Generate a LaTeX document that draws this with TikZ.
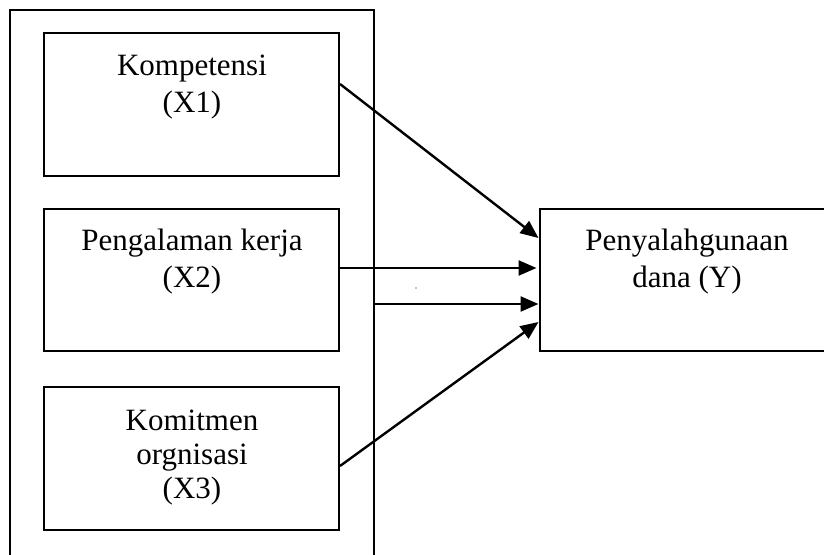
\documentclass[tikz,border=0pt]{standalone}
\usepackage{fontspec}
\setmainfont{Liberation Serif}
\usetikzlibrary{arrows.meta,positioning}
\tikzset{
	varbox/.style={draw, line width=2pt, minimum width=295pt, minimum height=143pt, inner sep=0pt},
	vartext/.style={align=center, anchor=north, inner sep=0pt, font=\fontsize{31}{37}\selectfont},
	link/.style={line width=2.4pt, -{Triangle[length=18pt,width=15pt]}}
}

\begin{document}
\begin{tikzpicture}[x=1pt, y=-1pt]
			\useasboundingbox (0,0) rectangle (824,554);
			\node[draw, line width=2pt, minimum width=364pt, minimum height=560pt, inner sep=0pt] (outer) at (192,290) {};
			\node[varbox] (x1) at (191.5,104.5) {};
			\node[varbox, minimum height=142pt] (x2) at (191.5,280) {};
			\node[varbox] (x3) at (191.5,458.5) {};
			\node[varbox, minimum height=142pt] (y) at (687,280) {};
			\node[vartext] (t1) at (192,54.5) {Kompetensi\\(X1)};
			\node[vartext] (t2) at (192,228.5) {Pengalaman kerja\\(X2)};
			\node[vartext, font=\fontsize{31}{34}\selectfont] (t3) at (192,410) {Komitmen\\orgnisasi\\(X3)};
			\node[vartext] (ty) at (687,228.5) {Penyalahgunaan\\dana (Y)};
			\coordinate (in3) at ([yshift=-24pt]y.west);
			\draw[link] ([yshift=20.5pt]x1.east) -- ([yshift=42pt]y.west);
			\draw[link] ([xshift=-2pt,yshift=12pt]x2.east) -- ([xshift=-2pt,yshift=12pt]y.west);
			\draw[link] (in3 -| outer.east) -- (in3);
			\draw[link] ([yshift=-7.5pt]x3.east) -- ([yshift=-42pt]y.west);
			\fill (416,288) circle (0.7pt);
\end{tikzpicture}
\end{document}
